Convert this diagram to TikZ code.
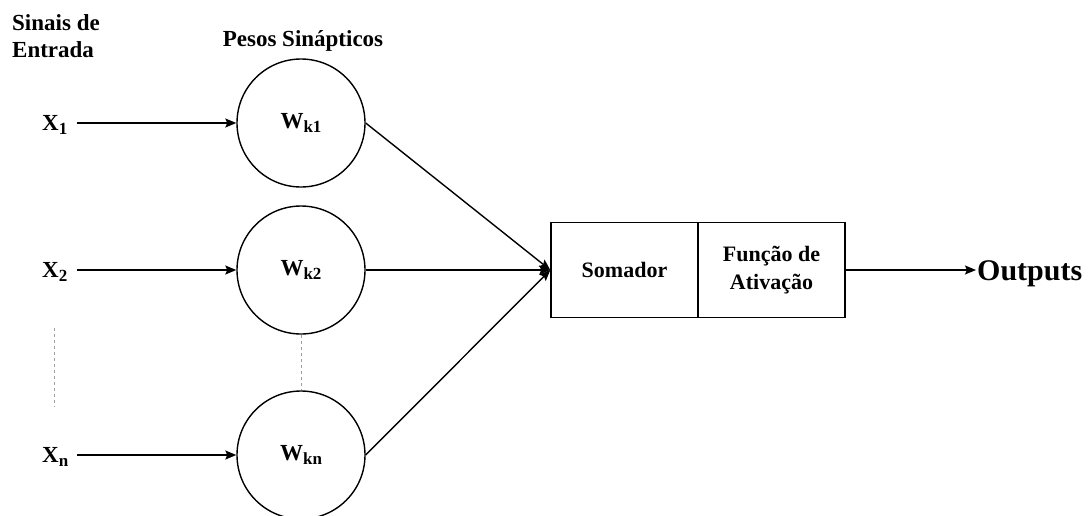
\documentclass[tikz,border=0pt]{standalone}
\usepackage{fontspec}
\setmainfont{Liberation Serif}
\usetikzlibrary{arrows.meta}
\newcommand\lowidx[1]{\raisebox{-0.45ex}{\fontsize{17}{17}\selectfont #1}}
\begin{document}
\begin{tikzpicture}[x=1pt,y=-1pt,
  lbl/.style={font=\bfseries\fontsize{23}{27}\selectfont, inner sep=0pt},
  boxlbl/.style={font=\bfseries\fontsize{22}{28}\selectfont},
  weight/.style={circle, draw, line width=1.4pt, minimum size=128pt, inner sep=0pt,
    font=\bfseries\fontsize{23}{24}\selectfont},
  block/.style={rectangle, draw, line width=1.4pt, minimum width=147pt,
    minimum height=95pt, inner sep=0pt},
  wire/.style={line width=1.4pt},
  arr/.style={wire, -{Stealth[length=11pt,width=9pt,inset=2pt]}},
  dots/.style={gray!75, line width=0.8pt, dash pattern=on 3pt off 3pt}]
\useasboundingbox (0,0) rectangle (1090,515);
\fill[white] (0,0) rectangle (1090,515);

% headings
\node[lbl, align=left, anchor=north west] (sig) at (12,14) {Sinais de\\Entrada};
\node[lbl, anchor=base] (pes) at (303,46) {Pesos Sinápticos};

% input signals
\node[lbl, anchor=base west] (x1) at (42,130) {X\lowidx{1}};
\node[lbl, anchor=base west] (x2) at (42,277) {X\lowidx{2}};
\node[lbl, anchor=base west] (xn) at (42,462) {X\lowidx{n}};

% synaptic weights
\node[weight] (w1) at (301,123) {W\lowidx{k1}};
\node[weight] (w2) at (301,270) {W\lowidx{k2}};
\node[weight] (wn) at (301,455) {W\lowidx{kn}};

% summing junction and activation function
\node[block, boxlbl] (som) at (624.5,270) {Somador};
\node[block, boxlbl, align=center] (fun) at (771.5,270) {Função de\\Ativação};

% output label
\node[inner sep=0pt, anchor=west, font=\bfseries\fontsize{30}{34}\selectfont] (out) at (977,274) {Outputs};

% inputs into the weights
\draw[arr, shorten <=9pt] (x1.east |- w1.west) -- (w1.west);
\draw[arr, shorten <=9pt] (x2.east |- w2.west) -- (w2.west);
\draw[arr, shorten <=9pt] (xn.east |- wn.west) -- (wn.west);

% weighted signals into the summing junction
\draw[arr] (w1.east) -- (som.west);
\draw[arr] (w2.east) -- (som.west);
\draw[arr] (wn.east) -- (som.west);

% output
\draw[arr, shorten >=1pt] (fun.east) -- (fun.east -| out.west);

% ellipsis marks
\coordinate (e1) at (54,328);
\coordinate (e2) at (54,407);
\draw[dots] (e1) -- (e2);
\draw[dots] (w2.south) -- (wn.north);
\end{tikzpicture}
\end{document}
